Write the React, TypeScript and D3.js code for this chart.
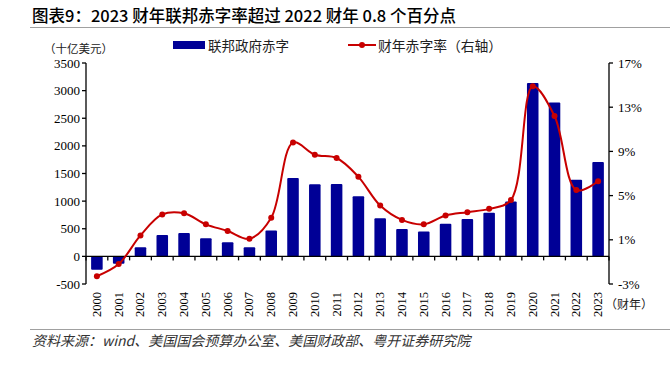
import React from "react";
import * as d3 from "d3";

// 联邦赤字（十亿美元）与财年赤字率（%）
const years = [
  "2000", "2001", "2002", "2003", "2004", "2005", "2006", "2007", "2008", "2009", "2010", "2011",
  "2012", "2013", "2014", "2015", "2016", "2017", "2018", "2019", "2020", "2021", "2022", "2023",
];
const deficit = [
  -240, -135, 165, 385, 425, 330, 255, 165, 470, 1420, 1305, 1310,
  1090, 690, 495, 450, 590, 675, 790, 995, 3140, 2785, 1385, 1710,
];
const deficitRate = [
  -2.3, -1.2, 1.4, 3.3, 3.4, 2.4, 1.8, 1.1, 3.0, 9.8, 8.7, 8.4,
  6.7, 4.1, 2.8, 2.4, 3.2, 3.5, 3.8, 4.6, 14.9, 12.2, 5.5, 6.3,
];
const leftTicks = [-500, 0, 500, 1000, 1500, 2000, 2500, 3000, 3500];
const rightTicks = [-3, 1, 5, 9, 13, 17];

const W = 670;
const H = 367;
const plot = { left: 86, right: 609, top: 63, bottom: 284 };

const BAR = "#000096";
const RED = "#C80000";
const SERIF = "'Liberation Serif', 'DejaVu Serif', serif";
const CJK = "'Noto Sans CJK SC', 'Noto Sans', sans-serif";

export default function App() {
  const x = d3.scaleBand<string>()
    .domain(years)
    .range([plot.left, plot.right])
    .paddingInner(0.47)
    .paddingOuter(0.235);
  const step = x.step();
  const cx = (y: string) => (x(y) ?? 0) + x.bandwidth() / 2;

  const yL = d3.scaleLinear().domain([-500, 3500]).range([plot.bottom, plot.top]);
  const yR = d3.scaleLinear().domain([-3, 17]).range([plot.bottom, plot.top]);

  const line = d3.line<number>()
    .x((_, i) => cx(years[i]))
    .y(d => yR(d))
    .curve(d3.curveCatmullRom.alpha(0.5));

  const zero = yL(0);

  return (
    <svg width={W} height={H} style={{ position: "absolute", left: 0, top: 0, background: "#fff" }}>
      {/* title */}
      <text x={32} y={22} fontFamily={CJK} fontSize={16.5} fontWeight={500} fill="#000">
        图表9：2023 财年联邦赤字率超过 2022 财年 0.8 个百分点
      </text>
      <line x1={30} x2={W} y1={27.5} y2={27.5} stroke="#a0a0a0" strokeWidth={1} />

      {/* unit & legend */}
      <text x={44} y={48} fontFamily={CJK} fontSize={11.5} dominantBaseline="central" fill="#222">
        （十亿美元）
      </text>
      <rect x={173} y={41} width={32} height={8} fill={BAR} />
      <text x={208} y={45} fontFamily={CJK} fontSize={13.5} dominantBaseline="central" fill="#222">
        联邦政府赤字
      </text>
      <line x1={348} x2={376} y1={45} y2={45} stroke={RED} strokeWidth={2} />
      <circle cx={362} cy={45} r={3} fill={RED} />
      <text x={378} y={45} fontFamily={CJK} fontSize={13.8} dominantBaseline="central" fill="#222">
        财年赤字率（右轴）
      </text>

      {/* bars */}
      {deficit.map((v, i) => (
        <rect
          key={years[i]}
          x={x(years[i])}
          y={Math.min(yL(v), zero)}
          width={x.bandwidth()}
          height={Math.abs(yL(v) - zero)}
          rx={1}
          fill={BAR}
        />
      ))}

      {/* left axis */}
      <line x1={plot.left} x2={plot.left} y1={plot.top} y2={plot.bottom} stroke="#000" strokeWidth={1.3} />
      {leftTicks.map(t => (
        <g key={t}>
          <line x1={plot.left - 4} x2={plot.left} y1={yL(t)} y2={yL(t)} stroke="#000" strokeWidth={1.3} />
          <text x={plot.left - 6} y={yL(t)} textAnchor="end" dominantBaseline="central"
            fontFamily={SERIF} fontSize={13} fill="#000">{t}</text>
        </g>
      ))}

      {/* right axis */}
      <line x1={plot.right} x2={plot.right} y1={plot.top} y2={plot.bottom} stroke="#000" strokeWidth={1.3} />
      {rightTicks.map(t => (
        <g key={t}>
          <line x1={plot.right} x2={plot.right + 4} y1={yR(t)} y2={yR(t)} stroke="#000" strokeWidth={1.3} />
          <text x={plot.right + 9} y={yR(t)} dominantBaseline="central"
            fontFamily={SERIF} fontSize={13} fill="#000">{t}%</text>
        </g>
      ))}

      {/* category axis at zero */}
      <line x1={plot.left} x2={plot.right} y1={zero} y2={zero} stroke="#000" strokeWidth={1.3} />
      {d3.range(years.length + 1).map(k => (
        <line key={k} x1={plot.left + step * k} x2={plot.left + step * k} y1={zero} y2={zero + 4}
          stroke="#000" strokeWidth={1.3} />
      ))}
      {years.map(y => (
        <text key={y} transform={`translate(${cx(y)},${292}) rotate(-90)`} textAnchor="end"
          dominantBaseline="central" fontFamily={SERIF} fontSize={12.5} fill="#000">{y}</text>
      ))}
      <text x={605} y={303} fontFamily={CJK} fontSize={12} dominantBaseline="central" fill="#222">（财年）</text>

      {/* deficit rate line */}
      <path d={line(deficitRate) ?? ""} fill="none" stroke={RED} strokeWidth={2} />
      {deficitRate.map((v, i) => (
        <circle key={years[i]} cx={cx(years[i])} cy={yR(v)} r={3} fill={RED} />
      ))}

      {/* source */}
      <line x1={30} x2={W} y1={329.5} y2={329.5} stroke="#a0a0a0" strokeWidth={1} />
      <text x={32} y={346} fontFamily={CJK} fontSize={14} fontStyle="italic" fill="#333">
        资料来源：wind、美国国会预算办公室、美国财政部、粤开证券研究院
      </text>
    </svg>
  );
}
